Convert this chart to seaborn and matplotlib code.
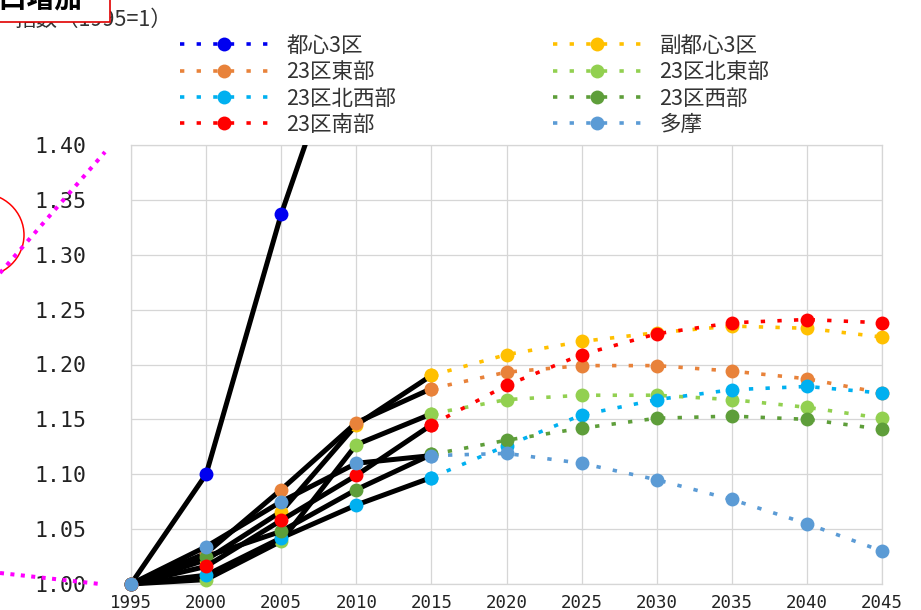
import matplotlib
matplotlib.use("Agg")
import matplotlib.pyplot as plt
import seaborn as sns
from matplotlib.lines import Line2D
from matplotlib.patches import Rectangle, Ellipse

# ---- data: population index (1995 = 1) ----
hist_years = [1995, 2000, 2005, 2010, 2015]
proj_years = [2015, 2020, 2025, 2030, 2035, 2040, 2045]

areas = ["都心3区", "副都心3区", "23区東部", "23区北東部",
         "23区北西部", "23区西部", "23区南部", "多摩"]
colors = ["#0000F0", "#FFC000", "#E8823A", "#92D050",
          "#00B0F0", "#5E9E3A", "#FF0000", "#5B9BD5"]

hist_toshin = [1.000, 1.100, 1.337, 1.535, 1.700]
hist_fukutoshin = [1.000, 1.022, 1.066, 1.145, 1.190]
hist_east = [1.000, 1.028, 1.086, 1.147, 1.178]
hist_northeast = [1.000, 1.004, 1.039, 1.127, 1.155]
hist_northwest = [1.000, 1.008, 1.042, 1.072, 1.097]
hist_west = [1.000, 1.025, 1.048, 1.086, 1.118]
hist_south = [1.000, 1.016, 1.058, 1.099, 1.145]
hist_tama = [1.000, 1.034, 1.075, 1.110, 1.117]

proj_toshin = [1.700, 1.850, 1.950, 2.020, 2.060, 2.080, 2.080]
proj_fukutoshin = [1.190, 1.209, 1.221, 1.229, 1.235, 1.233, 1.225]
proj_east = [1.178, 1.193, 1.199, 1.199, 1.194, 1.187, 1.174]
proj_northeast = [1.155, 1.168, 1.172, 1.172, 1.168, 1.161, 1.151]
proj_northwest = [1.097, 1.126, 1.154, 1.168, 1.177, 1.180, 1.174]
proj_west = [1.118, 1.131, 1.142, 1.151, 1.153, 1.150, 1.141]
proj_south = [1.145, 1.181, 1.209, 1.228, 1.238, 1.241, 1.238]
proj_tama = [1.117, 1.119, 1.110, 1.095, 1.077, 1.055, 1.030]

hist_series = [hist_toshin, hist_fukutoshin, hist_east, hist_northeast,
               hist_northwest, hist_west, hist_south, hist_tama]
proj_series = [proj_toshin, proj_fukutoshin, proj_east, proj_northeast,
               proj_northwest, proj_west, proj_south, proj_tama]

y_ticks = [1.00, 1.05, 1.10, 1.15, 1.20, 1.25, 1.30, 1.35, 1.40]

# ---- figure ----
sns.set_theme(style="white")
plt.rcParams['font.family'] = ['Noto Sans CJK JP', 'DejaVu Sans']

W, H = 921, 610
fig = plt.figure(figsize=(W / 100, H / 100), dpi=100, facecolor="white")


def fx(x):
    return x / W


def fy(y):
    return 1 - y / H


ax = fig.add_axes([fx(131), fy(584), fx(882) - fx(131), fy(145) - fy(584)])
ax.set_facecolor("white")

DOT = (0, (1.2, 3.4))
LW_HIST = 3.6
LW_PROJ = 2.6
MS = 10

# projections: coloured dotted lines
for name, c, vals in zip(areas, colors, proj_series):
    sns.lineplot(x=proj_years, y=vals, ax=ax, color=c, linewidth=LW_PROJ,
                 linestyle=DOT, dash_capstyle="butt", marker="o",
                 markersize=MS, markerfacecolor=c, markeredgecolor=c,
                 markeredgewidth=0, legend=False, zorder=3)

# observed values: black lines with coloured markers
for name, c, vals in zip(areas, colors, hist_series):
    sns.lineplot(x=hist_years, y=vals, ax=ax, color="black", linewidth=LW_HIST,
                 marker="o", markersize=MS, markerfacecolor=c,
                 markeredgecolor=c, markeredgewidth=0, legend=False, zorder=4)

# let edge markers spill past the frame while lines stay clipped at the top
clip_rect = Rectangle((-0.03, -0.03), 1.06, 1.03, transform=ax.transAxes)
for ln in ax.lines:
    ln.set_clip_path(clip_rect)

ax.set_xlim(1995, 2045)
ax.set_ylim(1.00, 1.40)
ax.set_xticks(list(range(1995, 2046, 5)))
ax.set_yticks(y_ticks)
ax.set_yticklabels([f"{v:.2f}" for v in y_ticks])
ax.grid(True, color="#D6D6D6", linewidth=0.9)
ax.set_axisbelow(True)
for sp in ax.spines.values():
    sp.set_color("#D6D6D6")
    sp.set_linewidth(0.9)
ax.tick_params(axis="y", length=0, pad=32, labelsize=15.5, labelcolor="#222222")
ax.tick_params(axis="x", length=0, pad=7, labelsize=12.5, labelcolor="#222222")
for lab in ax.get_yticklabels() + ax.get_xticklabels():
    lab.set_family("DejaVu Sans Mono")
ax.set_xlabel("")
ax.set_ylabel("")

# axis title
fig.text(fx(14), fy(20), "指数（1995=1）", fontsize=15.5, color="#333333",
         ha="left", va="center")

# legends (two columns)
def handle(c):
    return Line2D([], [], color=c, linewidth=LW_PROJ, linestyle=DOT,
                  dash_capstyle="butt", marker="o", markersize=MS,
                  markerfacecolor=c, markeredgecolor=c, markeredgewidth=0)


left_idx = [0, 2, 4, 6]
right_idx = [1, 3, 5, 7]
for idx, x0 in ((left_idx, 180), (right_idx, 553)):
    leg = fig.legend([handle(colors[i]) for i in idx], [areas[i] for i in idx],
                     loc="upper left", bbox_to_anchor=(fx(x0), fy(35)),
                     frameon=False, fontsize=15.5, handlelength=4.1,
                     handletextpad=0.85, labelspacing=0.2, borderpad=0,
                     borderaxespad=0, numpoints=1)
    for t in leg.get_texts():
        t.set_color("#333333")

# slide annotations around the chart
fig.add_artist(Line2D([fx(0), fx(105)], [fy(273), fy(152)], color="#FF00FF",
                      linewidth=2.9, linestyle=(0, (1, 1.6)),
                      transform=fig.transFigure))
fig.add_artist(Line2D([fx(0), fx(100)], [fy(573), fy(584)], color="#FF00FF",
                      linewidth=2.9, linestyle=(0, (1, 1.6)),
                      transform=fig.transFigure))
fig.add_artist(Ellipse((fx(-20), fy(235)), 88 / W, 84 / H, facecolor="none",
                       edgecolor="#FF0000", linewidth=1.1,
                       transform=fig.transFigure))
fig.add_artist(Rectangle((fx(-5), fy(22)), 115 / W, 27 / H, facecolor="white",
                         edgecolor="#E00000", linewidth=1.2,
                         transform=fig.transFigure, zorder=5))
fig.text(fx(82), fy(0), "人口増加", fontsize=20, fontweight="bold",
         color="black", ha="right", va="center", zorder=6)

fig.savefig("out.png", dpi=100, facecolor="white")
